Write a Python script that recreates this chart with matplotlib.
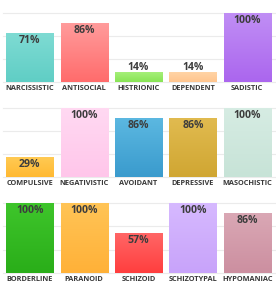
import numpy as np
import matplotlib
matplotlib.use("Agg")
import matplotlib.pyplot as plt
from matplotlib.colors import LinearSegmentedColormap

row1_labels = ["NARCISSISTIC", "ANTISOCIAL", "HISTRIONIC", "DEPENDENT", "SADISTIC"]
row1_values = [71, 86, 14, 14, 100]
row2_labels = ["COMPULSIVE", "NEGATIVISTIC", "AVOIDANT", "DEPRESSIVE", "MASOCHISTIC"]
row2_values = [29, 100, 86, 86, 100]
row3_labels = ["BORDERLINE", "PARANOID", "SCHIZOID", "SCHIZOTYPAL", "HYPOMANIAC"]
row3_values = [100, 100, 57, 100, 86]

row1_colors = [("#7edbd3", "#60cec5"), ("#ff9c9c", "#ff6c6c"), ("#a6ef7a", "#88e455"),
               ("#ffd4a6", "#ffc58e"), ("#c08ef5", "#ab66ee")]
row2_colors = [("#ffcb55", "#ffb932"), ("#ffd9f2", "#ffc6ea"), ("#5cb8e1", "#3a9bcd"),
               ("#e1bb50", "#d0a632"), ("#d6ece3", "#c7e3d7")]
row3_colors = [("#3ec52b", "#2aae19"), ("#ffc456", "#ffb138"), ("#ff6666", "#ff3e3e"),
               ("#d6b9ff", "#c8a3fa"), ("#daa8b5", "#cc8fa0")]

W, H = 276, 300
fig = plt.figure(figsize=(W / 100, H / 100), dpi=100)
fig.patch.set_facecolor("white")

rows = [(row1_labels, row1_values, row1_colors, 13, 82),
        (row2_labels, row2_values, row2_colors, 108, 177),
        (row3_labels, row3_values, row3_colors, 203, 273)]

ax_left, ax_right = 2.5, 274.5
for labels, values, colors, top, bottom in rows:
    ax = fig.add_axes([ax_left / W, 1 - bottom / H, (ax_right - ax_left) / W, (bottom - top) / H])
    x = np.arange(len(values))
    bars = ax.bar(x, values, width=0.865, color=[c[1] for c in colors], zorder=2)
    for b, (ctop, cbot), v in zip(bars, colors, values):
        cmap = LinearSegmentedColormap.from_list("g", [cbot, ctop])
        grad = np.linspace(0, 1, 64).reshape(-1, 1)
        x0, y0 = b.get_x(), b.get_y()
        im = ax.imshow(grad, cmap=cmap, origin="lower", aspect="auto",
                       extent=(x0, x0 + b.get_width(), y0, y0 + b.get_height()), zorder=3)
        im.set_clip_path(b)
        cx = x0 + b.get_width() / 2
        off = -5.6 if v >= 25 else 3.8
        ax.annotate(f"{v}%", (cx, v), xytext=(0, off), textcoords="offset points",
                    ha="center", va="center", fontsize=7.6, fontweight="bold",
                    color="#3d3d3d", family="Open Sans", zorder=5)
    ax.set_xlim(-0.5, len(values) - 0.5)
    ax.set_ylim(0, 100)
    ax.set_yticks(np.linspace(0, 100, 4))
    ax.yaxis.grid(True, color="#ebebeb", linewidth=0.8, zorder=0)
    for gl in ax.get_ygridlines():
        gl.set_clip_on(False)
    ax.set_yticklabels([])
    ax.tick_params(axis="y", length=0)
    ax.set_xticks(x)
    ax.set_xticklabels(labels, fontsize=5.3, fontweight="bold", color="#3a3a3a", family="Open Sans")
    ax.tick_params(axis="x", length=0, pad=2.2)
    for s in ax.spines.values():
        s.set_visible(False)
    ax.set_facecolor("none")

fig.savefig("out.png", dpi=100, facecolor="white")
